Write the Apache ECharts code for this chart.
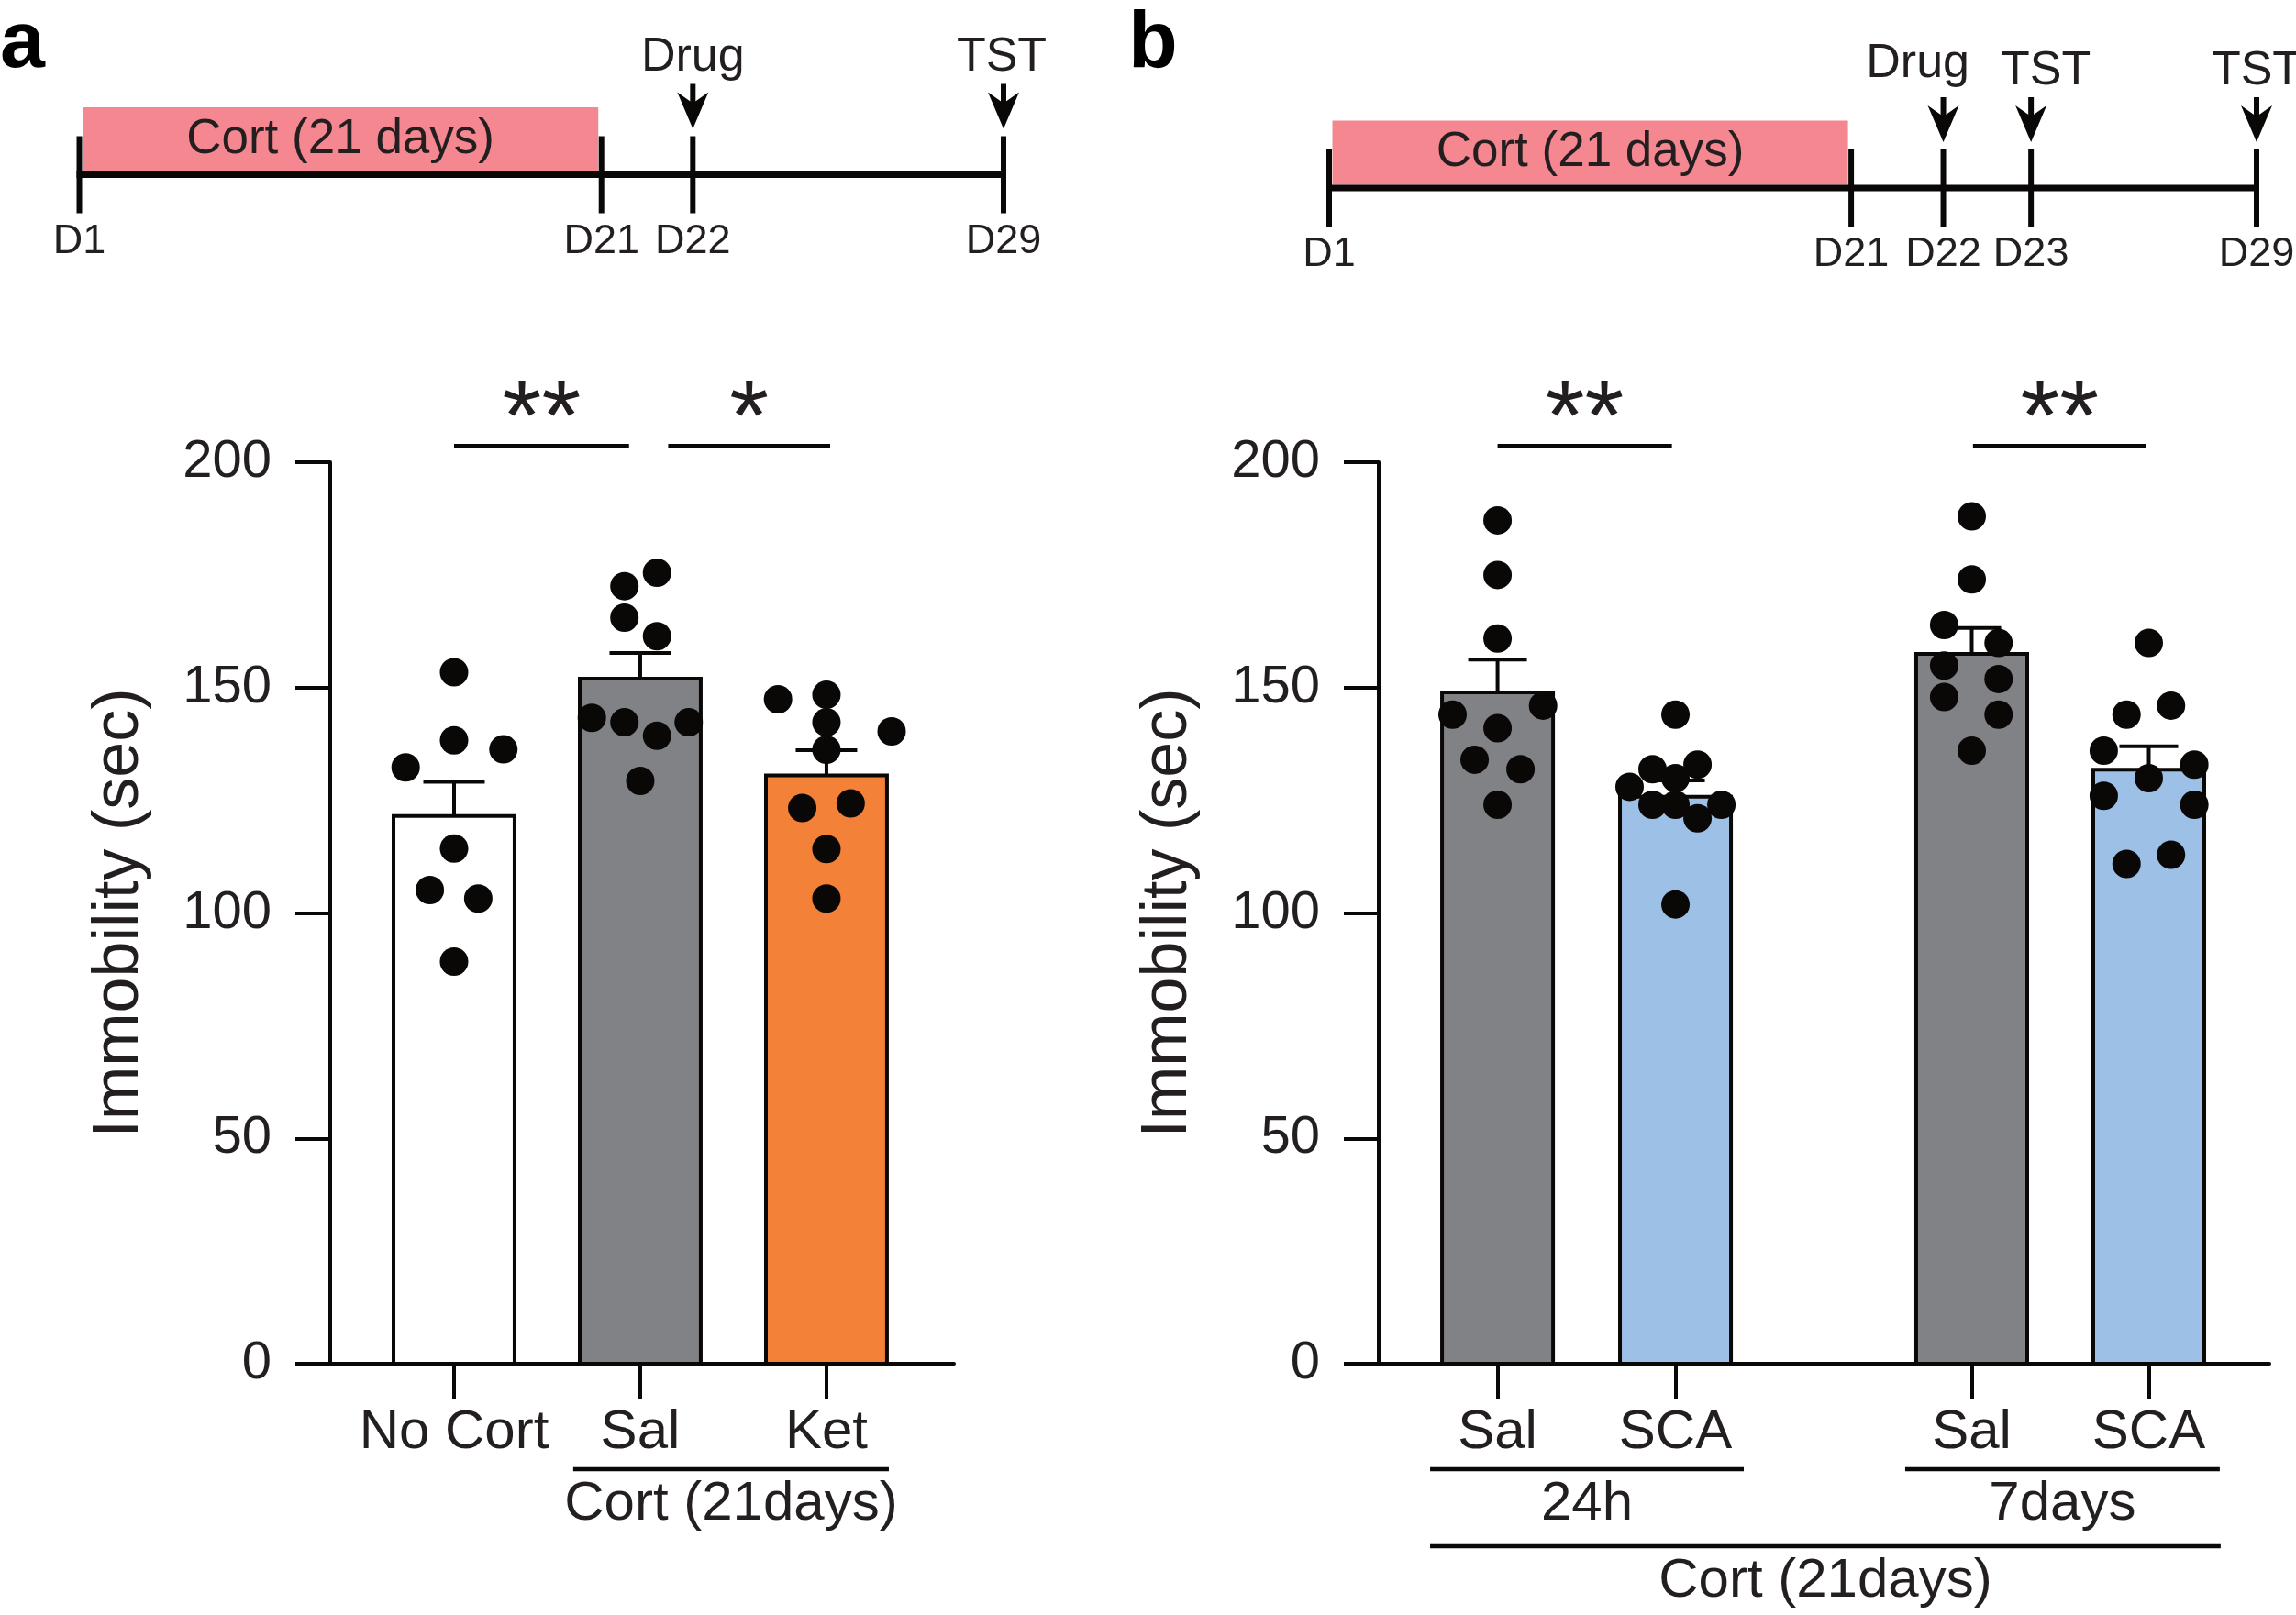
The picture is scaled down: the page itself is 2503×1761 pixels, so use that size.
<!DOCTYPE html>
<html><head><meta charset="utf-8">
<script src="https://cdn.jsdelivr.net/npm/echarts@6/dist/echarts.min.js"></script>
<style>html,body{margin:0;padding:0;background:#fff}#c{width:2503px;height:1761px}</style>
</head><body><div id="c"></div>
<script>
// ---------- Panel a data ----------
const catsA = ['No Cort', 'Sal', 'Ket'];
const posA = [0, 1, 2];
const meansA = [121.5, 152.0, 130.5];
const semA = [7.6, 5.7, 5.6];
const dotsNoCort = [153.4, 138.3, 136.3, 132.3, 114.3, 105.1, 103.2, 89.2];
const swarmNoCort = [0, 0, 0.265, -0.26, 0, -0.13, 0.13, 0];
const dotsSalA = [175.5, 172.5, 165.5, 161.4, 143.3, 142.3, 142.3, 139.3, 129.3];
const swarmSalA = [0.09, -0.085, -0.085, 0.09, -0.26, -0.085, 0.26, 0.09, 0];
const dotsKet = [147.4, 148.4, 142.3, 140.3, 136.2, 123.3, 124.3, 114.2, 103.2];
const swarmKet = [-0.26, 0, 0, 0.35, 0, -0.13, 0.13, 0, 0];
const sigA_from = [0, 1.15];
const sigA_to = [0.94, 2.02];
const sigA_text = ['**', '*'];
const grpA_from = [0.64];
const grpA_to = [2.335];
const grpA_text = ['Cort (21days)'];
const grpA_level = [0];

// ---------- Panel b data ----------
const catsB = ['Sal', 'SCA', 'Sal', 'SCA'];
const posB = [0, 1, 2.665, 3.66];
const meansB = [148.95, 125.8, 157.5, 131.8];
const semB = [7.25, 3.6, 5.7, 5.2];
const dotsSal24 = [187.1, 175.0, 160.9, 146.0, 144.0, 141.0, 134.0, 131.9, 124.0];
const swarmSal24 = [0, 0, 0, 0.256, -0.253, 0, -0.129, 0.129, 0];
const dotsSCA24 = [144.0, 131.9, 132.9, 129.9, 128.0, 124.0, 124.0, 124.0, 121.0, 101.9];
const swarmSCA24 = [0, -0.129, 0.124, 0, -0.258, -0.129, 0, 0.258, 0.124, 0];
const dotsSal7 = [188.0, 174.0, 163.9, 159.9, 154.9, 151.9, 147.9, 144.0, 136.0];
const swarmSal7 = [0, 0, -0.155, 0.151, -0.155, 0.151, -0.155, 0.151, 0];
const dotsSCA7 = [159.9, 146.0, 144.0, 136.0, 132.9, 129.9, 126.0, 124.0, 110.9, 112.9];
const swarmSCA7 = [0, 0.125, -0.125, -0.253, 0.256, 0, -0.253, 0.256, -0.125, 0.125];
const sigB_from = [0, 2.672];
const sigB_to = [0.98, 3.645];
const sigB_text = ['**', '**'];
const grpB_from = [-0.379, 2.291, -0.379];
const grpB_to = [1.384, 4.059, 4.064];
const grpB_text = ['24h', '7days', 'Cort (21days)'];
const grpB_level = [0, 0, 1];

// ---------- Timelines ----------
const cortLabel = 'Cort (21 days)';
const tlA_days = ['D1', 'D21', 'D22', 'D29'];
const tlA_pos = [0, 20, 23.5, 35.4];
const tlA_events = ['Drug', 'TST'];
const tlA_eventPos = [23.5, 35.4];
const tlA_eventLabelPos = [23.5, 35.33];
const tlA_eventDy = [-127.5, -127.5];
const tlB_days = ['D1', 'D21', 'D22', 'D23', 'D29'];
const tlB_pos = [0, 20, 23.53, 26.89, 35.53];
const tlB_events = ['Drug', 'TST', 'TST'];
const tlB_eventPos = [23.53, 26.89, 35.53];
const tlB_eventLabelPos = [22.55, 27.45, 35.53];
const tlB_eventDy = [-135, -127, -127];

// ---------- Styles ----------
const FONT = "'Liberation Sans', Arial, sans-serif";
const INK = '#0a0707';
const PINK = '#F4878F';
const colorsA = ['#FFFFFF', '#818286', '#F38137'];
const colorsB = ['#818286', '#9DC0E6', '#818286', '#9DC0E6'];

const chart = echarts.init(document.getElementById('c'), null, {renderer: 'canvas', width: 2503, height: 1761});

function barSeries(ai, pos, means, sems, colors, halfW, capHalf) {
  return {
    type: 'custom', xAxisIndex: ai, yAxisIndex: ai, clip: false, silent: true, z: 3,
    data: pos.map((p, i) => [p, means[i], sems[i], i]),
    renderItem(params, api) {
      const x = api.value(0), m = api.value(1), s = api.value(2), i = api.value(3);
      const tl = api.coord([x - halfW, m]);
      const br = api.coord([x + halfW, 0]);
      const top = api.coord([x, m + s]);
      const cl = api.coord([x - capHalf, m + s]);
      const cr = api.coord([x + capHalf, m + s]);
      return {type: 'group', children: [
        {type: 'rect', shape: {x: tl[0], y: tl[1], width: br[0] - tl[0], height: br[1] - tl[1]},
         style: {fill: colors[i], stroke: INK, lineWidth: 4}},
        {type: 'line', shape: {x1: top[0], y1: tl[1], x2: top[0], y2: top[1]}, style: {stroke: INK, lineWidth: 4}},
        {type: 'line', shape: {x1: cl[0], y1: cl[1], x2: cr[0], y2: cr[1]}, style: {stroke: INK, lineWidth: 4}}
      ]};
    }
  };
}

function dotSeries(ai, center, vals, offs) {
  return {
    type: 'scatter', xAxisIndex: ai, yAxisIndex: ai, symbol: 'circle', symbolSize: 31, silent: true, z: 5,
    itemStyle: {color: INK, opacity: 1}, data: vals.map((v, k) => [center + offs[k], v])
  };
}

function sigSeries(ai, from, to, texts) {
  return {
    type: 'custom', xAxisIndex: ai, yAxisIndex: ai, clip: false, silent: true, z: 6,
    data: from.map((f, i) => [f, to[i]]),
    renderItem(params, api) {
      const a = api.coord([api.value(0), 200]);
      const b = api.coord([api.value(1), 200]);
      const y = a[1] - 18;
      return {type: 'group', children: [
        {type: 'line', shape: {x1: a[0], y1: y, x2: b[0], y2: y}, style: {stroke: INK, lineWidth: 4}},
        {type: 'text', x: (a[0] + b[0]) / 2, y: y - 26,
         style: {text: texts[params.dataIndex], fontSize: 110, fontFamily: FONT, fill: '#231f20', align: 'center', verticalAlign: 'middle'}}
      ]};
    }
  };
}

function groupSeries(ai, from, to, texts, levels) {
  return {
    type: 'custom', xAxisIndex: ai, yAxisIndex: ai, clip: false, silent: true, z: 6,
    data: from.map((f, i) => [f, to[i], levels[i]]),
    renderItem(params, api) {
      const a = api.coord([api.value(0), 0]);
      const b = api.coord([api.value(1), 0]);
      const lv = api.value(2);
      const yl = a[1] + 115 + lv * 84;
      return {type: 'group', children: [
        {type: 'line', shape: {x1: a[0], y1: yl, x2: b[0], y2: yl}, style: {stroke: INK, lineWidth: 4.5}},
        {type: 'text', x: (a[0] + b[0]) / 2, y: yl + 38,
         style: {text: texts[params.dataIndex], fontSize: 60, fontFamily: FONT, fill: '#231f20', align: 'center', verticalAlign: 'middle'}}
      ]};
    }
  };
}

function timelineSeries(gi, days, pos, events, evPos, evLabelPos, evDy) {
  return {
    type: 'custom', xAxisIndex: gi, yAxisIndex: gi, clip: false, silent: true, z: 4,
    data: [[0, 0]],
    renderItem(params, api) {
      const y0 = api.coord([0, 0])[1];
      const X = v => api.coord([v, 0])[0];
      const ch = [];
      const xs = X(pos[0]), xe = X(pos[pos.length - 1]), xc = X(pos[1]);
      ch.push({type: 'rect', shape: {x: xs + 3.5, y: y0 - 73.5, width: xc - xs - 7, height: 70}, style: {fill: PINK}});
      ch.push({type: 'text', x: (xs + xc) / 2, y: y0 - 38.5,
        style: {text: cortLabel, fontSize: 53, fontFamily: FONT, fill: '#231f20', align: 'center', verticalAlign: 'middle'}});
      ch.push({type: 'line', shape: {x1: xs - 3, y1: y0, x2: xe + 3, y2: y0}, style: {stroke: INK, lineWidth: 7}});
      pos.forEach((p, i) => {
        const x = X(p);
        ch.push({type: 'line', shape: {x1: x, y1: y0 - 42, x2: x, y2: y0 + 42}, style: {stroke: INK, lineWidth: 6}});
        ch.push({type: 'text', x: x, y: y0 + 73,
          style: {text: days[i], fontSize: 45, fontFamily: FONT, fill: '#231f20', align: 'center', verticalAlign: 'middle'}});
      });
      evPos.forEach((p, i) => {
        const x = X(p);
        ch.push({type: 'line', shape: {x1: x, y1: y0 - 99, x2: x, y2: y0 - 72}, style: {stroke: INK, lineWidth: 6}});
        ch.push({type: 'polygon', shape: {points: [[x, y0 - 50], [x - 17, y0 - 90], [x, y0 - 78], [x + 17, y0 - 90]]}, style: {fill: INK}});
        ch.push({type: 'text', x: X(evLabelPos[i]), y: y0 + evDy[i],
          style: {text: events[i], fontSize: 52, fontFamily: FONT, fill: '#231f20', align: 'center', verticalAlign: 'middle'}});
      });
      return {type: 'group', children: ch};
    }
  };
}

function valueYAxis(gi) {
  return {
    type: 'value', gridIndex: gi, min: 0, max: 200, interval: 50,
    name: 'Immobility (sec)', nameLocation: 'middle', nameGap: 194, nameRotate: 90,
    nameTextStyle: {fontSize: 70, fontFamily: FONT, color: '#231f20', lineHeight: 70},
    axisLine: {show: true, onZero: false, lineStyle: {color: INK, width: 4}},
    axisTick: {show: true, length: 38, lineStyle: {color: INK, width: 4}},
    axisLabel: {margin: 64, fontSize: 58, fontFamily: FONT, color: '#231f20'},
    splitLine: {show: false}
  };
}

function catXAxis(gi, min, max, pos, cats) {
  return {
    type: 'value', gridIndex: gi, min: min, max: max,
    axisLine: {show: true, onZero: false, lineStyle: {color: INK, width: 4}},
    axisTick: {show: true, customValues: pos, length: 39, lineStyle: {color: INK, width: 4}},
    axisLabel: {show: true, customValues: pos, margin: 45, fontSize: 60, lineHeight: 60, fontFamily: FONT, color: '#231f20',
      formatter: v => { const k = pos.findIndex(p => Math.abs(p - v) < 1e-6); return k >= 0 ? cats[k] : ''; }},
    splitLine: {show: false}
  };
}

const hiddenAxis = (gi, min, max) => ({type: 'value', gridIndex: gi, min: min, max: max, show: false, splitLine: {show: false}});

const option = {
  backgroundColor: '#ffffff',
  animation: false,
  grid: [
    {left: 360, top: 504, width: 680, height: 983},
    {left: 1503, top: 504, width: 971, height: 983},
    {left: 86.5, top: 150, width: 1007.5, height: 81},
    {left: 1449, top: 164, width: 1011, height: 82}
  ],
  xAxis: [
    catXAxis(0, -0.665, 2.685, posA, catsA),
    catXAxis(1, -0.668, 4.338, posB, catsB),
    hiddenAxis(2, 0, 35.4),
    hiddenAxis(3, 0, 35.53)
  ],
  yAxis: [
    valueYAxis(0),
    valueYAxis(1),
    hiddenAxis(2, -1, 1),
    hiddenAxis(3, -1, 1)
  ],
  graphic: [
    {type: 'text', left: 0, top: 5, style: {text: 'a', fontSize: 88, fontWeight: 'bold', fontFamily: FONT, fill: '#000'}},
    {type: 'text', left: 1230, top: 5, style: {text: 'b', fontSize: 88, fontWeight: 'bold', fontFamily: FONT, fill: '#000'}}
  ],
  series: [
    barSeries(0, posA, meansA, semA, colorsA, 0.325, 0.165),
    dotSeries(0, posA[0], dotsNoCort, swarmNoCort),
    dotSeries(0, posA[1], dotsSalA, swarmSalA),
    dotSeries(0, posA[2], dotsKet, swarmKet),
    sigSeries(0, sigA_from, sigA_to, sigA_text),
    groupSeries(0, grpA_from, grpA_to, grpA_text, grpA_level),
    barSeries(1, posB, meansB, semB, colorsB, 0.312, 0.165),
    dotSeries(1, posB[0], dotsSal24, swarmSal24),
    dotSeries(1, posB[1], dotsSCA24, swarmSCA24),
    dotSeries(1, posB[2], dotsSal7, swarmSal7),
    dotSeries(1, posB[3], dotsSCA7, swarmSCA7),
    sigSeries(1, sigB_from, sigB_to, sigB_text),
    groupSeries(1, grpB_from, grpB_to, grpB_text, grpB_level),
    timelineSeries(2, tlA_days, tlA_pos, tlA_events, tlA_eventPos, tlA_eventLabelPos, tlA_eventDy),
    timelineSeries(3, tlB_days, tlB_pos, tlB_events, tlB_eventPos, tlB_eventLabelPos, tlB_eventDy)
  ]
};
chart.setOption(option);
</script>
</body></html>
